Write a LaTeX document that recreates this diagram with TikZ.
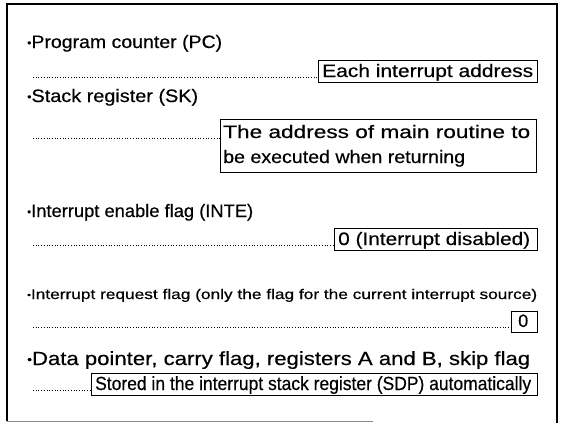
\documentclass[tikz,border=0pt]{standalone}
\usepackage{fontspec}
\setmainfont[FakeBold=0.4]{Liberation Sans}
\usepackage{graphicx}
\newcommand{\fw}[3]{\resizebox{#1pt}{\height}{\fontsize{#2}{#2}\selectfont #3}}
\newcommand{\bul}{\raisebox{0.08em}{\scalebox{0.62}{•}}}
\begin{document}
\begin{tikzpicture}[x=1pt,y=-1pt,
  txt/.style={inner sep=0pt, anchor=base west},
  vbox/.style={draw, line width=1.4pt, inner sep=0pt, anchor=north west},
  dots/.style={line width=0.9pt, dash pattern=on 0.8pt off 1.9pt}]
\useasboundingbox (0,0) rectangle (563,423);
% frame
\draw[line width=1.6pt] (7,421) -- (7,4) -- (557,4) -- (557,423);
\draw[black!45, line width=1pt] (7,421) -- (373,421);

% 1 Program counter
\node[txt] (l1) at (27,48) {\fw{195}{18}{\bul Program counter (PC)}};
\node[vbox, minimum width=219pt, minimum height=22pt] (b1) at (318,60) {};
\node[txt] (t1) at (322,77) {\fw{211}{18}{Each interrupt address}};
\coordinate (d1) at (33,77);
\draw[dots] (d1) -- (d1 -| b1.west);

% 2 Stack register
\node[txt] (l2) at (27,102) {\fw{171}{18}{\bul Stack register (SK)}};
\node[vbox, minimum width=316pt, minimum height=53pt] (b2) at (220,119) {};
\node[txt] (t2a) at (223,138) {\fw{307}{18}{The address of main routine to}};
\node[txt] (t2b) at (223,163) {\fw{242}{18}{be executed when returning}};
\coordinate (d2) at (33,138);
\draw[dots] (d2) -- (d2 -| b2.west);

% 3 Interrupt enable flag
\node[txt] (l3) at (27,217) {\fw{226}{18}{\bul Interrupt enable flag (INTE)}};
\node[vbox, minimum width=203pt, minimum height=22pt] (b3) at (334,228) {};
\node[txt] (t3) at (338,245) {\fw{192}{18}{0 (Interrupt disabled)}};
\coordinate (d3) at (33,245);
\draw[dots] (d3) -- (d3 -| b3.west);

% 4 Interrupt request flag
\node[txt] (l4) at (27,299) {\fw{510}{14}{\bul Interrupt request flag (only the flag for the current interrupt source)}};
\node[vbox, minimum width=26pt, minimum height=21pt] (b4) at (511,311) {};
\node[txt] (t4) at (518,327) {\fontsize{18}{18}\selectfont 0};
\coordinate (d4) at (33,327);
\draw[dots] (d4) -- (d4 -| b4.west);

% 5 Data pointer
\node[txt] (l5) at (27,365) {\fw{503}{19}{\bul Data pointer, carry flag, registers A and B, skip flag}};
\node[vbox, minimum width=446pt, minimum height=22pt] (b5) at (91,373) {};
\node[txt] (t5) at (95,390) {\fw{436}{19}{Stored in the interrupt stack register (SDP) automatically}};
\coordinate (d5) at (33,390);
\draw[dots] (d5) -- (d5 -| b5.west);
\end{tikzpicture}
\end{document}
